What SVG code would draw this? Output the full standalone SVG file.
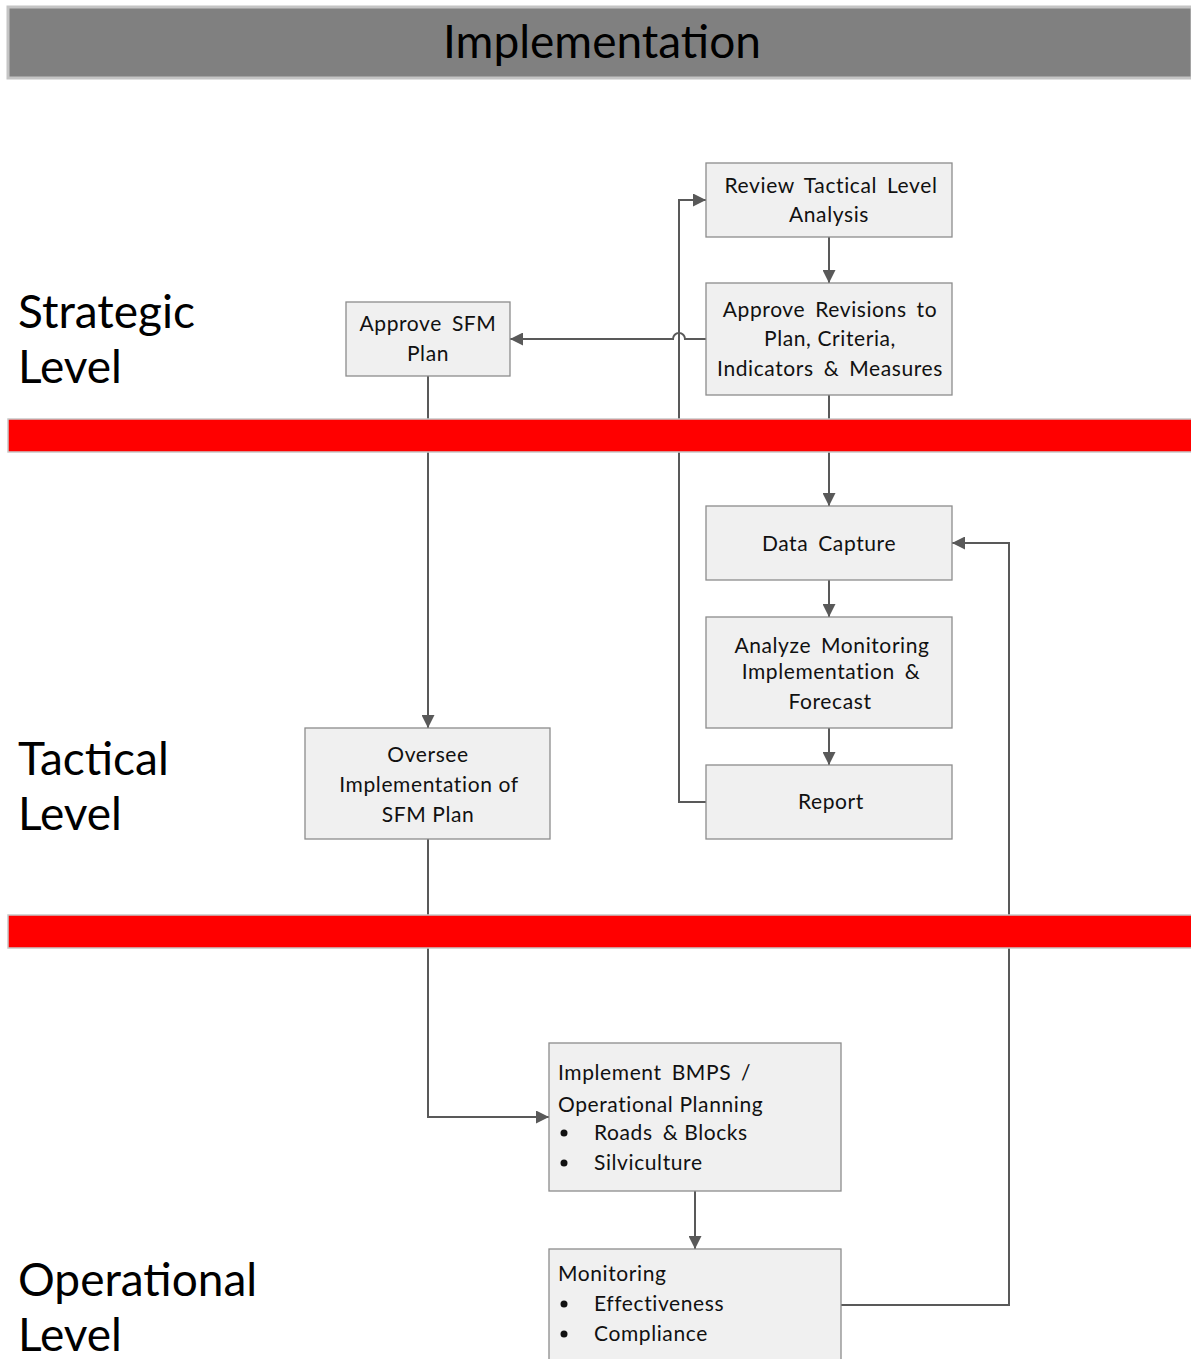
<svg xmlns="http://www.w3.org/2000/svg" width="1191" height="1359" viewBox="0 0 1191 1359">
<defs>
<marker id="ah" markerWidth="13" markerHeight="13" viewBox="0 0 13 13" refX="13" refY="6.5" orient="auto" markerUnits="userSpaceOnUse">
<path d="M0,0 L13,6.5 L0,13 Z" fill="#595959"/>
</marker>
<style>
.node rect{fill:#f0f0f0;stroke:#8c8c8c;stroke-width:1.3}
.t{font-family:Lato,"Open Sans",sans-serif;font-size:21px;fill:#111;letter-spacing:0.6px;word-spacing:4px}
.n{word-spacing:0px}
.c{text-anchor:middle}
.lane{font-family:Lato,"Open Sans",sans-serif;font-size:46px;fill:#000}
.conn path{fill:none;stroke:#595959;stroke-width:2}
.band{fill:#ff0000;stroke:#c8c8c8;stroke-width:1.5}
</style>
</defs>
<rect x="0" y="0" width="1191" height="1359" fill="#ffffff"/>
<g id="header">
<rect x="8" y="7" width="1184" height="71" fill="#808080" stroke="#c4c4c4" stroke-width="3"/>
<text x="602" y="58" text-anchor="middle" style="font-family:Lato,'Open Sans',sans-serif;font-size:46px;fill:#000">Implementation</text>
</g>
<g id="lanes">
<text class="lane" x="18" y="328">Strategic</text>
<text class="lane" x="18" y="383">Level</text>
<text class="lane" x="18" y="775">Tactical</text>
<text class="lane" x="18" y="830">Level</text>
<text class="lane" x="18" y="1296">Operational</text>
<text class="lane" x="18" y="1351">Level</text>
</g>
<g class="conn" id="connectors">
<path d="M829,237 L829,283" marker-end="url(#ah)"/>
<path d="M706,339 L685,339 A6,6 0 0 0 673,339 L510,339" marker-end="url(#ah)"/>
<path d="M829,395 L829,506" marker-end="url(#ah)"/>
<path d="M829,580 L829,617" marker-end="url(#ah)"/>
<path d="M829,728 L829,765" marker-end="url(#ah)"/>
<path d="M706,802 L679,802 L679,200 L706,200" marker-end="url(#ah)"/>
<path d="M428,376 L428,728" marker-end="url(#ah)"/>
<path d="M428,839 L428,1117 L549,1117" marker-end="url(#ah)"/>
<path d="M695,1191 L695,1249" marker-end="url(#ah)"/>
<path d="M841,1305 L1009,1305 L1009,543 L952,543" marker-end="url(#ah)"/>
</g>
<g id="bands">
<rect class="band" x="8" y="419" width="1184" height="33"/>
<rect class="band" x="8" y="915" width="1184" height="33"/>
</g>
<g class="node" id="review">
<rect x="706" y="163" width="246" height="74"/>
<text class="t c" x="831" y="193">Review Tactical Level</text>
<text class="t c" x="829" y="222">Analysis</text>
</g>
<g class="node" id="approve-revisions">
<rect x="706" y="283" width="246" height="112"/>
<text class="t c" x="830" y="317">Approve Revisions to</text>
<text class="t c n" x="830" y="346">Plan, Criteria,</text>
<text class="t c" x="830" y="376">Indicators &amp; Measures</text>
</g>
<g class="node" id="approve-sfm">
<rect x="346" y="302" width="164" height="74"/>
<text class="t c" x="428" y="331">Approve SFM</text>
<text class="t c" x="428" y="361">Plan</text>
</g>
<g class="node" id="data-capture">
<rect x="706" y="506" width="246" height="74"/>
<text class="t c" x="829" y="551">Data Capture</text>
</g>
<g class="node" id="analyze">
<rect x="706" y="617" width="246" height="111"/>
<text class="t c" x="832" y="653">Analyze Monitoring</text>
<text class="t c" x="831" y="679">Implementation &amp;</text>
<text class="t c" x="830" y="709">Forecast</text>
</g>
<g class="node" id="report">
<rect x="706" y="765" width="246" height="74"/>
<text class="t c" x="831" y="809">Report</text>
</g>
<g class="node" id="oversee">
<rect x="305" y="728" width="245" height="111"/>
<text class="t c" x="428" y="762">Oversee</text>
<text class="t c n" x="429" y="792">Implementation of</text>
<text class="t c n" x="428" y="822">SFM Plan</text>
</g>
<g class="node" id="implement">
<rect x="549" y="1043" width="292" height="148"/>
<text class="t" x="558" y="1080">Implement BMPS /</text>
<text class="t n" x="558" y="1112">Operational Planning</text>
<circle cx="564" cy="1133" r="3.5" fill="#111"/>
<text class="t" x="594" y="1140">Roads &amp;<tspan class="n"> Blocks</tspan></text>
<circle cx="564" cy="1163" r="3.5" fill="#111"/>
<text class="t" x="594" y="1170">Silviculture</text>
</g>
<g class="node" id="monitoring">
<rect x="549" y="1249" width="292" height="120"/>
<text class="t" x="558" y="1281">Monitoring</text>
<circle cx="564" cy="1304" r="3.5" fill="#111"/>
<text class="t" x="594" y="1311">Effectiveness</text>
<circle cx="564" cy="1334" r="3.5" fill="#111"/>
<text class="t" x="594" y="1341">Compliance</text>
</g>
</svg>
